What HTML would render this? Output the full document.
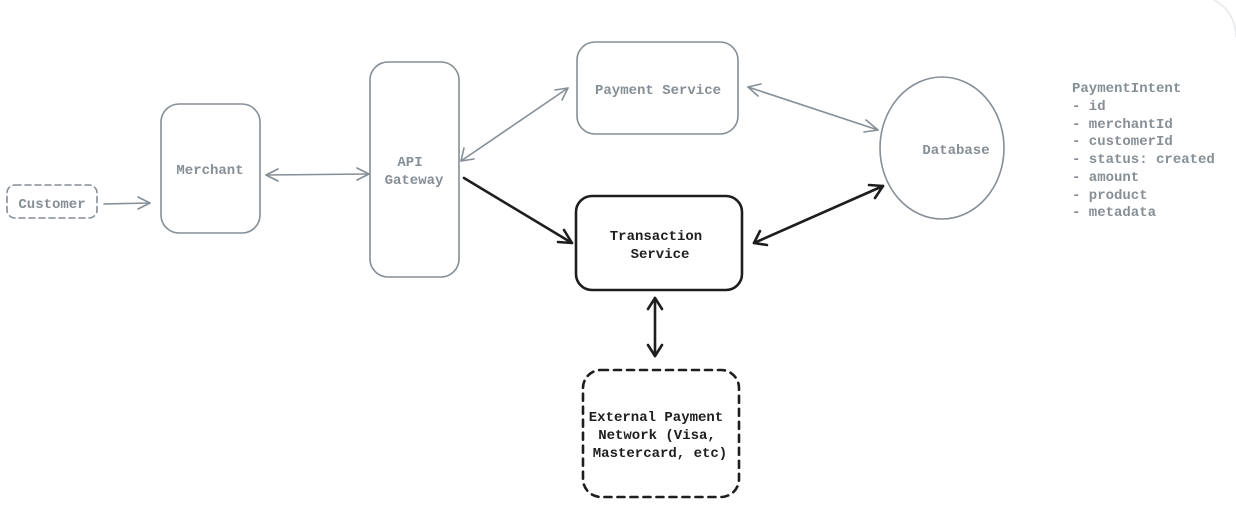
<!DOCTYPE html>
<html><head><meta charset="utf-8"><style>
html,body{margin:0;padding:0;background:#fff;width:1236px;height:530px;overflow:hidden}
svg{display:block}
text{font-family:"Liberation Mono","DejaVu Sans Mono",monospace;font-weight:bold;font-size:14px}
.g{fill:#868e96}
.b{fill:#1e1e1e}
</style></head><body>
<svg width="1236" height="530" viewBox="0 0 1236 530">
<path d="M1214,0 Q1236,12 1236,38" fill="none" stroke="#e6e8eb" stroke-width="1.5"/>
<g fill="none" stroke="#868e96" stroke-width="1.6" stroke-linecap="round" stroke-linejoin="round">
<rect x="7" y="185" width="90" height="33" rx="8" stroke-dasharray="6 4"/>
<rect x="161" y="104" width="99" height="129" rx="18"/>
<rect x="370" y="62" width="89" height="215" rx="18"/>
<rect x="577" y="42" width="161" height="92" rx="18"/>
<ellipse cx="942" cy="148" rx="62" ry="71"/>
<!-- customer -> merchant -->
<line x1="104" y1="204" x2="150" y2="203"/><polyline points="138,197 150,203 138,209"/>
<!-- merchant <-> gateway -->
<line x1="266" y1="175" x2="369" y2="174"/>
<polyline points="278,169 266,175 278,181"/><polyline points="357,168 369,174 357,180"/>
<!-- gateway <-> payment -->
<line x1="461" y1="161" x2="568" y2="88"/>
<polyline points="464,148 461,161 474,159"/><polyline points="555,90 568,88 562,100"/>
<!-- payment <-> db -->
<line x1="748" y1="87" x2="878" y2="130"/>
<polyline points="758,96 748,87 761,84"/><polyline points="866,120 878,130 864,132"/>
</g>
<g fill="none" stroke="#1e1e1e" stroke-width="2.6" stroke-linecap="round" stroke-linejoin="round">
<rect x="576" y="196" width="166" height="94" rx="16"/>
<rect x="583" y="370" width="156" height="127" rx="18" stroke-dasharray="7 6"/>
<line x1="464" y1="178" x2="572" y2="243"/><polyline points="558,242 572,243 564,230"/>
<line x1="754" y1="243" x2="883" y2="186"/>
<polyline points="760,231 754,243 767,245"/><polyline points="869,185 883,186 875,198"/>
<line x1="655" y1="298" x2="655" y2="356"/>
<polyline points="648,309 655,298 662,309"/><polyline points="648,345 655,356 662,345"/>
</g>
<text class="g" x="52" y="208" text-anchor="middle">Customer</text>
<text class="g" x="210" y="174" text-anchor="middle">Merchant</text>
<text class="g" x="410" y="166" text-anchor="middle">API</text>
<text class="g" x="414" y="184" text-anchor="middle">Gateway</text>
<text class="g" x="658" y="94" text-anchor="middle">Payment Service</text>
<text class="g" x="956" y="154" text-anchor="middle">Database</text>
<text class="b" x="656" y="240" text-anchor="middle">Transaction</text>
<text class="b" x="660" y="258" text-anchor="middle">Service</text>
<text class="b" x="656" y="421" text-anchor="middle">External Payment</text>
<text class="b" x="657" y="439" text-anchor="middle">Network (Visa,</text>
<text class="b" x="660" y="457" text-anchor="middle">Mastercard, etc)</text>
<g class="g">
<text x="1072" y="92">PaymentIntent</text>
<text x="1072" y="110">- id</text>
<text x="1072" y="128">- merchantId</text>
<text x="1072" y="145">- customerId</text>
<text x="1072" y="163">- status: created</text>
<text x="1072" y="181">- amount</text>
<text x="1072" y="199">- product</text>
<text x="1072" y="216">- metadata</text>
</g>
</svg>
</body></html>
